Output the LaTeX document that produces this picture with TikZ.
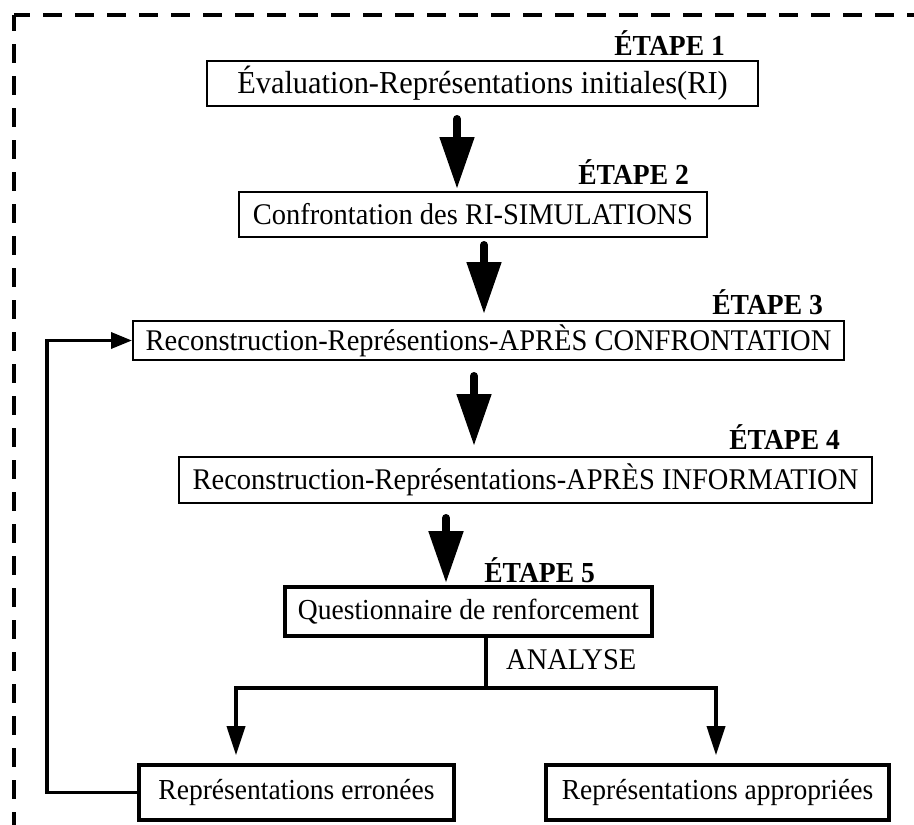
\documentclass[tikz,border=0pt]{standalone}
\usepackage{fontspec}
\setmainfont{Liberation Serif}[FakeStretch=0.95]
\usetikzlibrary{arrows.meta}
\begin{document}
\begin{tikzpicture}[x=1pt,y=-1pt,
  txt/.style={font=\fontsize{30}{34}\selectfont},
  box/.style={draw, line width=2pt, inner sep=0pt, txt},
  thickbox/.style={draw, line width=3.6pt, inner sep=0pt, font=\fontsize{29}{33}\selectfont},
  etape/.style={font=\fontsize{29}{32}\selectfont\bfseries, inner sep=0pt, anchor=east},
  bigarrow/.style={line width=8pt, line cap=round, -{Triangle[length=52pt,width=33pt]}},
  conn/.style={line width=3.5pt},
  connarrow/.style={line width=3.5pt, -{Triangle[length=29pt,width=18pt]}},
  backarrow/.style={line width=3.5pt, -{Triangle[length=21pt,width=16pt]}}
]
\useasboundingbox (0,0) rectangle (914,825);
% dashed frame
\draw[line width=4pt, dash pattern=on 19pt off 13pt, dash phase=3pt] (14,15) -- (14,835);
\draw[line width=4pt, dash pattern=on 19pt off 13pt, dash phase=3pt] (14,15) -- (924,15);

% boxes
\node[box, font=\fontsize{32}{36}\selectfont, minimum width=551pt, minimum height=45pt] (b1) at (482.5,83.5) {Évaluation-Représentations initiales(RI)};
\node[box, minimum width=468pt, minimum height=45pt] (b2) at (473,214.5) {Confrontation des RI-SIMULATIONS};
\node[box, minimum width=711pt, minimum height=39pt] (b3) at (488.5,340.5) {Reconstruction-Représentions-APRÈS CONFRONTATION};
\node[box, minimum width=693pt, minimum height=46pt] (b4) at (525.5,480) {Reconstruction-Représentations-APRÈS INFORMATION};
\node[thickbox, minimum width=367pt, minimum height=49pt] (b5) at (468.5,611.5) {Questionnaire de renforcement};
\node[thickbox, minimum width=315pt, minimum height=55pt] (b6) at (296.5,792.5) {Représentations erronées};
\node[thickbox, minimum width=343pt, minimum height=55pt] (b7) at (717.5,792.5) {Représentations appropriées};

% step labels
\node[etape] (e1) at (725,43) {ÉTAPE 1};
\node[etape] (e2) at (689,172) {ÉTAPE 2};
\node[etape] (e3) at (823,302) {ÉTAPE 3};
\node[etape] (e4) at (840,437) {ÉTAPE 4};
\node[etape] (e5) at (595,570) {ÉTAPE 5};
\node[txt, inner sep=0pt, anchor=west] (an) at (506,660) {ANALYSE};

% arrow columns
\coordinate (x1) at (457,0);
\coordinate (x2) at (484,0);
\coordinate (x3) at (474,0);
\coordinate (x4) at (446,0);
\coordinate (x5) at (486,0);
\coordinate (xl) at (236,0);
\coordinate (xr) at (716,0);
\coordinate (xb) at (47,0);
\coordinate (ys) at (0,688);

\draw[bigarrow] ([yshift=-12pt]b1.south -| x1) -- ([yshift=2pt]b2.north -| x1);
\draw[bigarrow] ([yshift=-7pt]b2.south -| x2) -- ([yshift=6pt]b3.north -| x2);
\draw[bigarrow] ([yshift=-15pt]b3.south -| x3) -- ([yshift=10pt]b4.north -| x3);
\draw[bigarrow] ([yshift=-14pt]b4.south -| x4) -- ([yshift=2pt]b5.north -| x4);

% analyse branch
\draw[conn] (b5.south -| x5) -- (ys -| x5);
\draw[connarrow] (ys -| xl) -- ([yshift=8pt]b6.north -| xl);
\draw[connarrow] (ys -| xr) -- ([yshift=8pt]b7.north -| xr);
\draw[conn] ([xshift=-1.75pt]ys -| xl) -- ([xshift=1.75pt]ys -| xr);

% feedback loop
\draw[backarrow] (b6.west) -- (b6.west -| xb) -- (b3.west -| xb) -- (b3.west);
\end{tikzpicture}
\end{document}
